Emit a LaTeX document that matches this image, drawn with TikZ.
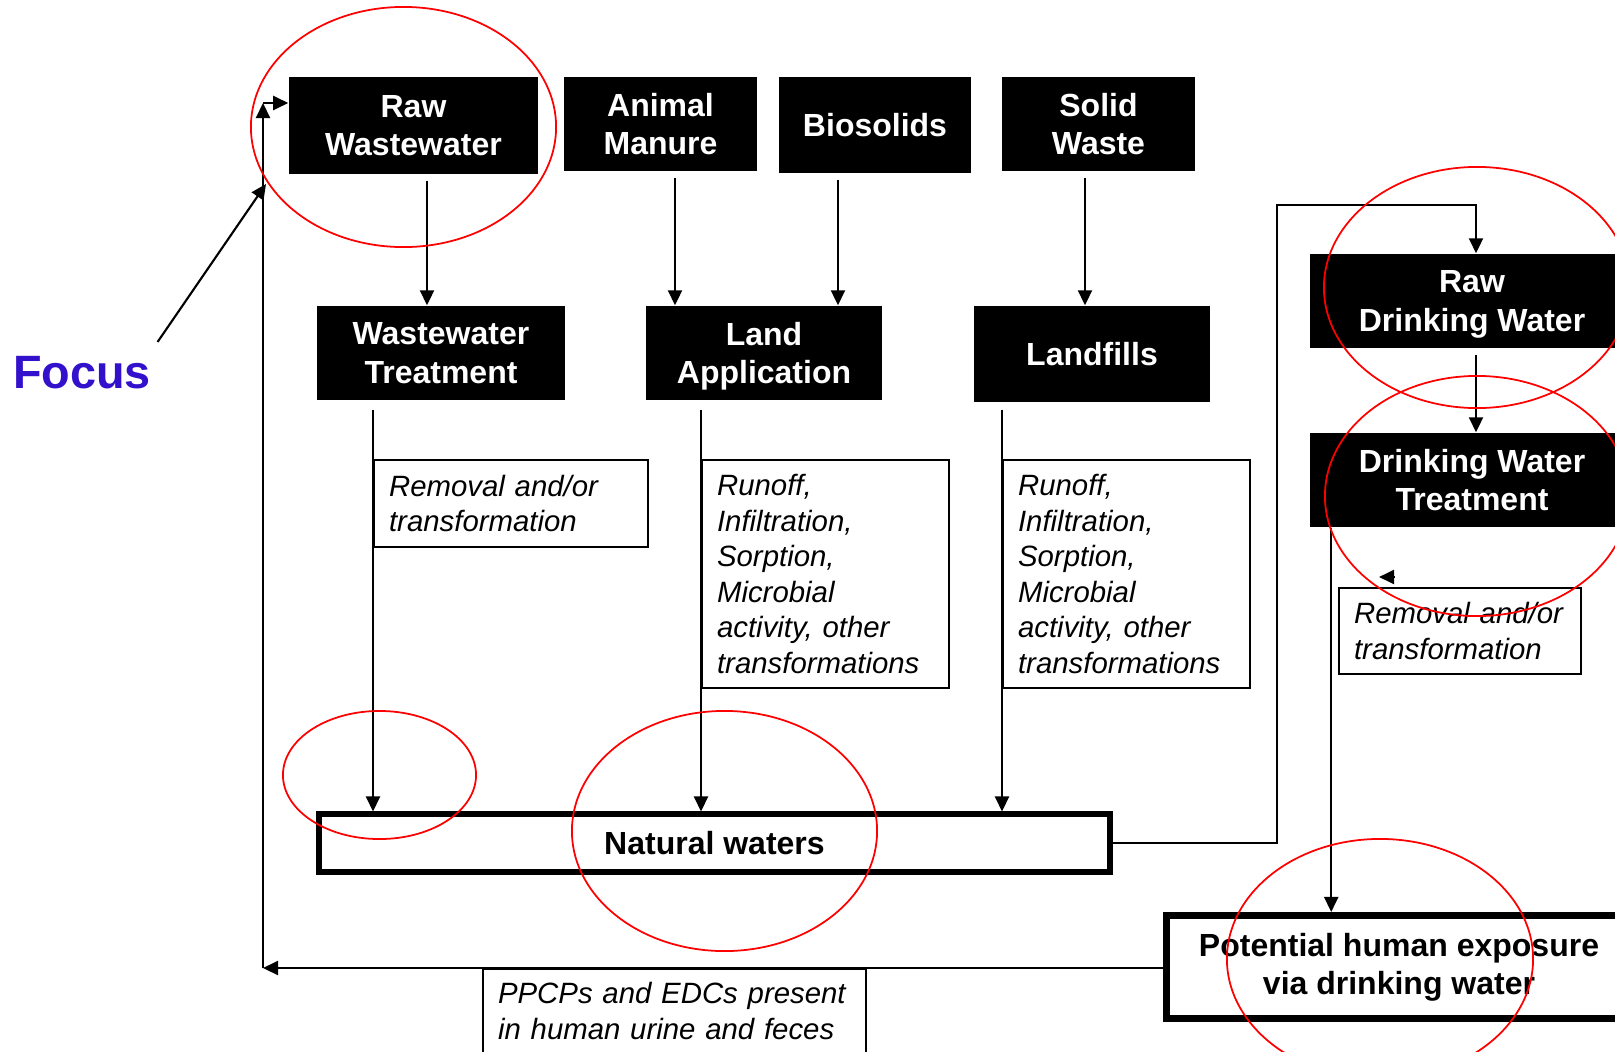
\documentclass[tikz,border=0pt]{standalone}
\usepackage{fontspec}
\setmainfont{Liberation Sans}
\usetikzlibrary{positioning,arrows.meta,calc}
\definecolor{focusblue}{HTML}{3311CC}

\begin{document}
\begin{tikzpicture}[x=0.01cm, y=-0.01cm,
    blackbox/.style={fill=black, text=white, inner sep=0pt, text depth=0pt, align=center, font=\fontsize{9.1}{10.85}\selectfont\bfseries},
    notebox/.style={draw, line width=0.6pt, anchor=north west, inner xsep=0.15cm, inner ysep=0pt, align=left, font=\fontsize{8.35}{10.1}\selectfont\itshape},
    framebox/.style={draw, fill=white, inner sep=0pt, align=center, font=\fontsize{9.1}{10.85}\selectfont\bfseries},
    arrow/.style={-{Triangle[length=0.15cm,width=0.14cm]}, line width=0.6pt},
    ring/.style={draw=red, line width=0.5pt},
]
\useasboundingbox (0,0) rectangle (1615,1051);
\clip (0,0) rectangle (1615,1051);

\node[blackbox, minimum width=2.49cm, minimum height=0.97cm] (raww) at (413.5,125.5) {Raw\\Wastewater};
\node[blackbox, minimum width=1.93cm, minimum height=0.94cm] (manure) at (660.5,124) {Animal\\Manure};
\node[blackbox, minimum width=1.92cm, minimum height=0.96cm] (bios) at (875,125) {Biosolids};
\node[blackbox, minimum width=1.93cm, minimum height=0.94cm] (solid) at (1098.5,124) {Solid\\Waste};
\node[blackbox, minimum width=2.48cm, minimum height=0.94cm] (wwt) at (441,353) {Wastewater\\Treatment};
\node[blackbox, minimum width=2.36cm, minimum height=0.94cm] (landapp) at (764,353) {Land\\Application};
\node[blackbox, minimum width=2.36cm, minimum height=0.96cm] (landf) at (1092,354) {Landfills};
\node[blackbox, minimum width=3.24cm, minimum height=0.94cm] (rdw) at (1472,301) {Raw\\Drinking Water};
\node[blackbox, minimum width=3.24cm, minimum height=0.94cm] (dwt) at (1472,480) {Drinking Water\\Treatment};

\node[notebox, text width=2.44cm, minimum height=0.87cm] (rem1) at (373,459) {Removal and/or\\transformation};
\node[notebox, text width=2.17cm, minimum height=2.28cm] (run1) at (701,459) {Runoff,\\Infiltration,\\Sorption,\\Microbial\\activity, other\\transformations};
\node[notebox, text width=2.17cm, minimum height=2.28cm] (run2) at (1002,459) {Runoff,\\Infiltration,\\Sorption,\\Microbial\\activity, other\\transformations};
\node[notebox, text width=2.12cm, minimum height=0.86cm] (rem2) at (1338,587) {Removal and/or\\transformation};
\node[notebox, text width=3.53cm, minimum height=0.84cm] (ppcp) at (482,968) {PPCPs and EDCs present\\in human urine and feces};

\node[framebox, line width=0.06cm, minimum width=7.91cm, minimum height=0.57cm] (nat) at (714.5,843) {Natural waters};
\node[framebox, line width=0.07cm, minimum width=4.65cm, minimum height=1.03cm] (expo) at (1399,967) {Potential human exposure\\via drinking water};
\node[font=\fontsize{13.3}{16}\selectfont\bfseries, text=focusblue, inner sep=0pt] (focus) at (82,373) {Focus};

\coordinate (turn) at (1277,205);
\coordinate (back) at (263,968);
\coordinate (loop) at (263,103);
\coordinate (hit) at (266,184);

\draw[arrow, shorten <=0.06cm] ([xshift=0.135cm]raww.south) -- ([xshift=0.135cm]raww.south |- wwt.north);
\draw[arrow, shorten <=0.06cm] ([xshift=0.145cm]manure.south) -- ([xshift=0.145cm]manure.south |- landapp.north);
\draw[arrow, shorten <=0.06cm] ([xshift=-0.37cm]bios.south) -- ([xshift=-0.37cm]bios.south |- landapp.north);
\draw[arrow, shorten <=0.06cm] ([xshift=-0.135cm]solid.south) -- ([xshift=-0.135cm]solid.south |- landf.north);
\draw[arrow, shorten <=0.09cm] (wwt.south -| rem1.west) -- (nat.north -| rem1.west);
\draw[arrow, shorten <=0.09cm] (landapp.south -| run1.west) -- (nat.north -| run1.west);
\draw[arrow, shorten <=0.07cm] (landf.south -| run2.west) -- (nat.north -| run2.west);
\draw[arrow] (nat.east) -| (turn) -| ([xshift=0.04cm]rdw.north);
\draw[arrow, shorten <=0.06cm] ([xshift=0.04cm]rdw.south) -- ([xshift=0.04cm]dwt.north);
\draw[arrow] ([xshift=0.22cm]dwt.south west) -- ([xshift=0.22cm]dwt.south west |- expo.north);
\draw[arrow] ([shift={(0.56cm,0.10cm)}]rem2.north west) -- ++(-15,0);
\draw[arrow] (expo.west |- back) -- (back);
\draw[arrow] (back) -- (loop);
\draw[arrow] (loop) -- (loop -| raww.west);
\draw[arrow] ([shift={(0.06cm,0.14cm)}]focus.north east) -- (hit);

\draw[ring] (403.5,127) ellipse [x radius=1.525cm, y radius=1.2cm];
\draw[ring] (379.5,775) ellipse [x radius=0.965cm, y radius=0.64cm];
\draw[ring] (724.5,831) ellipse [x radius=1.525cm, y radius=1.2cm];
\draw[ring] (1477,287.5) ellipse [x radius=1.53cm, y radius=1.205cm];
\draw[ring] (1477,496) ellipse [x radius=1.52cm, y radius=1.2cm];
\draw[ring] (1380,959) ellipse [x radius=1.53cm, y radius=1.2cm];
\end{tikzpicture}
\end{document}
